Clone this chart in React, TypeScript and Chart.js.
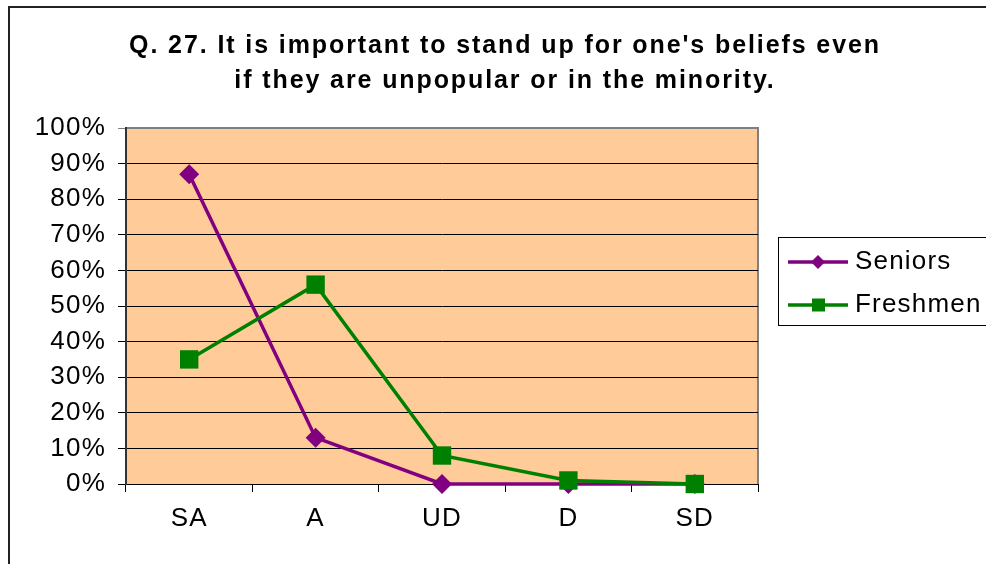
import React, { useEffect, useRef } from "react";
import { Chart, registerables } from "chart.js";

Chart.register(...registerables);

const categories = ["SA", "A", "UD", "D", "SD"];
const seniors = [87, 13, 0, 0, 0];
const freshmen = [35, 56, 8, 1, 0];
const titleLines = [
  "Q. 27. It is important to stand up for one's beliefs even",
  "if they are unpopular or in the minority.",
];
const seriesNames = ["Seniors", "Freshmen"];

const FONT = "'Liberation Sans', Arial, sans-serif";
const PURPLE = "#800080";
const GREEN = "#008000";

const decorPlugin = {
  id: "decor",
  beforeDraw(chart: any) {
    const { ctx, chartArea } = chart;
    const tb = chart.titleBlock;
    if (tb && !tb.__wrapped) {
      const orig = tb.draw;
      tb.draw = function (...args: any[]) {
        this.ctx.save();
        try {
          this.ctx.letterSpacing = "1.9px";
        } catch (e) {}
        orig.apply(this, args);
        this.ctx.restore();
      };
      tb.__wrapped = true;
    }
    ctx.save();
    ctx.fillStyle = "#ffffff";
    ctx.fillRect(0, 0, chart.width, chart.height);
    ctx.fillStyle = "#FFCC99";
    ctx.fillRect(chartArea.left, chartArea.top, chartArea.right - chartArea.left, chartArea.bottom - chartArea.top);
    ctx.strokeStyle = "#808080";
    ctx.lineWidth = 2;
    ctx.beginPath();
    ctx.moveTo(chartArea.left, chartArea.top);
    ctx.lineTo(chartArea.right, chartArea.top);
    ctx.lineTo(chartArea.right, chartArea.bottom);
    ctx.stroke();
    // outer border
    ctx.strokeStyle = "#222";
    ctx.lineWidth = 2;
    ctx.beginPath();
    ctx.moveTo(9, chart.height + 10);
    ctx.lineTo(9, 7);
    ctx.lineTo(chart.width + 10, 7);
    ctx.stroke();
    ctx.restore();
    try {
      ctx.letterSpacing = "1.2px";
    } catch (e) {}
  },
  afterDraw(chart: any) {
    const { ctx } = chart;
    ctx.save();
    ctx.strokeStyle = "#000";
    ctx.lineWidth = 1;
    ctx.strokeRect(778.5, 237.5, 300, 88);
    const items = [
      { name: seriesNames[0], color: PURPLE, y: 262, shape: "diamond" },
      { name: seriesNames[1], color: GREEN, y: 305, shape: "square" },
    ];
    items.forEach((it) => {
      ctx.strokeStyle = it.color;
      ctx.lineWidth = 3.5;
      ctx.beginPath();
      ctx.moveTo(788, it.y);
      ctx.lineTo(848, it.y);
      ctx.stroke();
      ctx.fillStyle = it.color;
      ctx.beginPath();
      if (it.shape === "diamond") {
        ctx.moveTo(818, it.y - 7);
        ctx.lineTo(825, it.y);
        ctx.lineTo(818, it.y + 7);
        ctx.lineTo(811, it.y);
        ctx.closePath();
      } else {
        ctx.rect(812, it.y - 6.5, 13, 13);
      }
      ctx.fill();
      ctx.fillStyle = "#000";
      ctx.font = `26px ${FONT}`;
      ctx.textBaseline = "middle";
      ctx.textAlign = "left";
      ctx.fillText(it.name, 855, it.y);
    });
    ctx.restore();
    try {
      ctx.letterSpacing = "0px";
    } catch (e) {}
  },
};

export default function App() {
  const ref = useRef<HTMLCanvasElement>(null);
  useEffect(() => {
    if (!ref.current) return;
    const chart = new Chart(ref.current, {
      type: "line",
      data: {
        labels: categories,
        datasets: [
          {
            label: seriesNames[0],
            data: seniors,
            borderColor: PURPLE,
            backgroundColor: PURPLE,
            borderWidth: 3.5,
            pointStyle: "rectRot",
            pointRadius: 10,
            pointBorderWidth: 0,
            pointBackgroundColor: PURPLE,
            tension: 0,
            order: 2,
            clip: false,
          },
          {
            label: seriesNames[1],
            data: freshmen,
            borderColor: GREEN,
            backgroundColor: GREEN,
            borderWidth: 3.5,
            pointStyle: "rect",
            pointRadius: 13,
            pointBorderWidth: 0,
            pointBackgroundColor: GREEN,
            tension: 0,
            order: 1,
            clip: false,
          },
        ],
      },
      options: {
        responsive: false,
        animation: false,
        devicePixelRatio: 1,
        layout: { padding: { left: 24, right: 0, top: 0, bottom: 0 } },
        plugins: {
          legend: { display: false },
          tooltip: { enabled: false },
          title: {
            display: true,
            text: titleLines,
            color: "#000",
            font: { family: FONT, size: 25, weight: "bold", lineHeight: 1.38 },
            padding: { top: 29, bottom: 30 },
          },
        },
        scales: {
          x: {
            type: "category",
            offset: true,
            grid: {
              display: true,
              drawOnChartArea: false,
              drawTicks: true,
              tickLength: 8,
              color: "#000",
              offset: true,
            },
            border: { display: true, color: "#000", width: 1 },
            ticks: { color: "#000", font: { family: FONT, size: 26 }, padding: 11 },
            afterFit: (s: any) => {
              s.height = 80;
            },
          },
          y: {
            min: 0,
            max: 100,
            grid: {
              color: (c: any) => (c.tick && c.tick.value === 100 ? "#808080" : "#000"),
              lineWidth: 1,
              drawTicks: true,
              tickLength: 8,
            },
            border: { display: true, color: "#333", width: 2 },
            ticks: {
              stepSize: 10,
              color: "#000",
              font: { family: FONT, size: 26 },
              padding: 12,
              callback: (v: any) => `${v}%`,
            },
            afterFit: (s: any) => {
              s.width = 102;
            },
          },
          yR: {
            position: "right",
            display: true,
            grid: { display: false, drawTicks: false },
            border: { display: false },
            ticks: { display: false },
            afterFit: (s: any) => {
              s.width = 228;
            },
          },
        },
      },
      plugins: [decorPlugin],
    });
    return () => chart.destroy();
  }, []);
  return (
    <div style={{ position: "absolute", left: 0, top: 0, width: 986, height: 564, overflow: "hidden" }}>
      <canvas ref={ref} width={986} height={564} />
    </div>
  );
}
